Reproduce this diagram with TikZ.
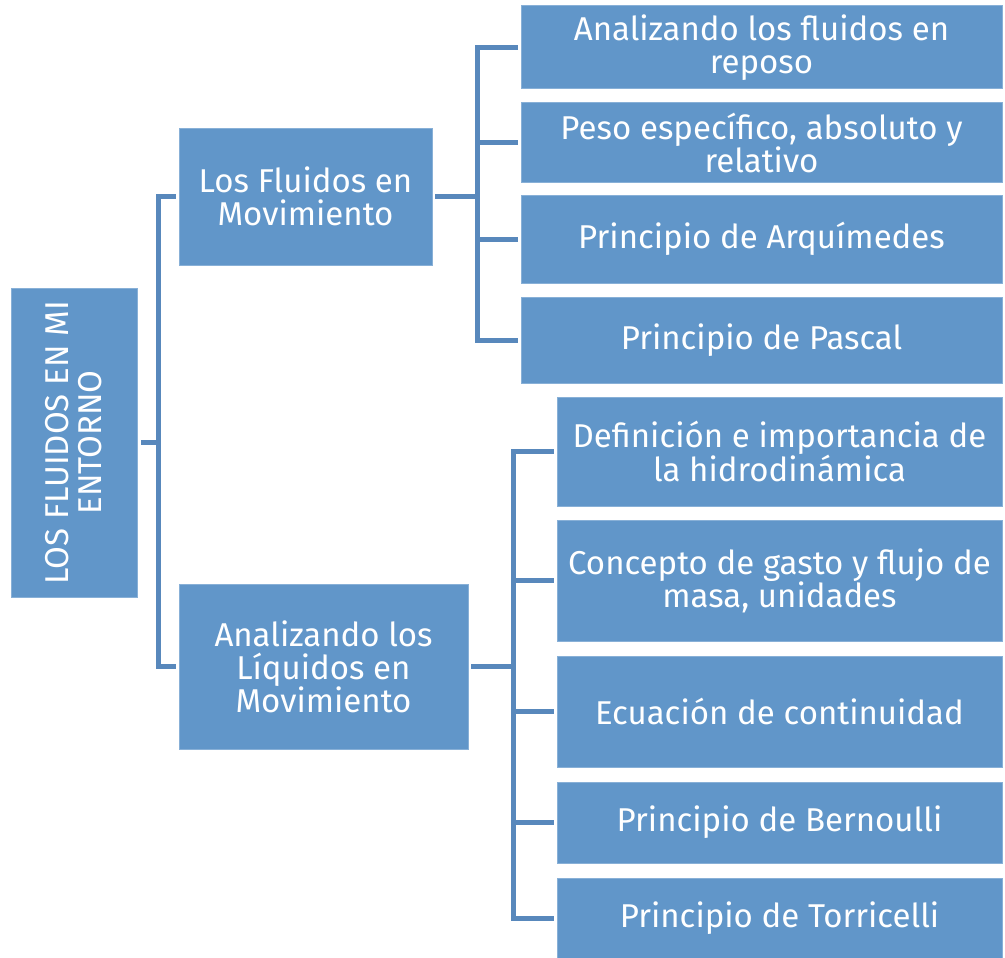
\documentclass[tikz,border=0pt]{standalone}
\usepackage{fontspec}
\setmainfont{Fira Sans}
\usetikzlibrary{positioning}
\definecolor{boxblue}{HTML}{6196C9}
\definecolor{linkblue}{HTML}{5888BC}
\tikzstyle{every box} = []
\tikzstyle{box} = [draw=boxblue!75!white, line width=1pt, fill=boxblue, text=white, align=center, inner sep=0pt, font=\fontsize{33}{33}\selectfont, every box]
\tikzstyle{link} = [draw=linkblue, line width=5pt, line cap=rect]
\begin{document}
\begin{tikzpicture}[x=1pt,y=-1pt]
\useasboundingbox (0,0) rectangle (1005,958);
% root and second level
\node[box, rotate=90, minimum width=309, minimum height=126] (root) at (74,442.5) {LOS FLUIDOS EN MI\\ENTORNO};
\node[box, minimum width=253, minimum height=137] (fm) at (305.5,196.5) {Los Fluidos en\\Movimiento};
\node[box, minimum width=289, minimum height=165] (al) at (323.5,666.5) {Analizando los\\L\'iquidos en\\Movimiento};
% leaves, top group
\node[box, minimum width=481, minimum height=83] (a1) at (761.5,47.5) {Analizando los fluidos en\\reposo};
\node[box, minimum width=481, minimum height=79] (a2) at (761.5,142.5) {Peso espec\'ifico, absoluto y\\relativo};
\node[box, minimum width=481, minimum height=88] (a3) at (761.5,239) {Principio de Arqu\'imedes};
\node[box, minimum width=481, minimum height=86] (a4) at (761.5,340) {Principio de Pascal};
% leaves, bottom group
\node[box, minimum width=445, minimum height=109] (b1) at (779.5,451.5) {Definici\'on e importancia de\\la hidrodin\'amica};
\node[box, minimum width=445, minimum height=121] (b2) at (779.5,580.5) {Concepto de gasto y flujo de\\masa, unidades};
\node[box, minimum width=445, minimum height=111] (b3) at (779.5,711.5) {Ecuaci\'on de continuidad};
\node[box, minimum width=445, minimum height=81] (b4) at (779.5,822.5) {Principio de Bernoulli};
\node[box, minimum width=445, minimum height=80] (b5) at (779.5,918) {Principio de Torricelli};
% brackets
\coordinate (jr) at (158,442.5);
\coordinate (ja) at (477,196.5);
\coordinate (jb) at (513,666.5);
\draw[link] ([xshift=6]root.south) -- (jr);
\draw[link] (jr |- fm.west) -- (jr |- al.west);
\foreach \n in {fm,al} \draw[link] (jr |- \n.west) -- ([xshift=-5]\n.west);
\draw[link] ([xshift=5]fm.east) -- (ja);
\draw[link] (ja |- a1.west) -- (ja |- a4.west);
\foreach \n in {a1,a2,a3,a4} \draw[link] (ja |- \n.west) -- ([xshift=-5]\n.west);
\draw[link] ([xshift=5]al.east) -- (jb);
\draw[link] (jb |- b1.west) -- (jb |- b5.west);
\foreach \n in {b1,b2,b3,b4,b5} \draw[link] (jb |- \n.west) -- ([xshift=-5]\n.west);
\end{tikzpicture}
\end{document}
